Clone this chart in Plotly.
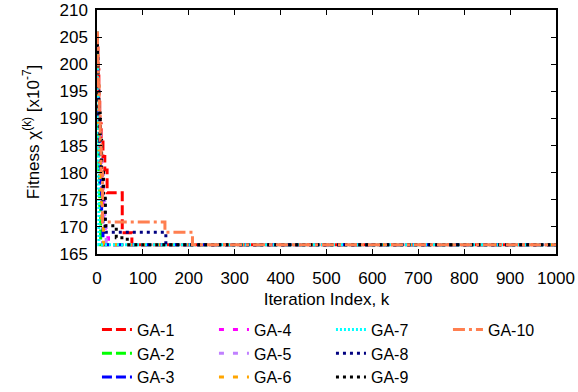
import plotly.graph_objects as go

# Step breakpoints (iteration k where best fitness changes) and fitness values [x1e-7]
names = ["GA-1", "GA-2", "GA-3", "GA-4", "GA-5", "GA-6", "GA-7", "GA-8", "GA-9", "GA-10"]

k_ga1 = [0, 1, 2, 4, 6, 9, 13, 17, 22, 55, 76, 1000]
v_ga1 = [205.5, 203, 199, 193, 189, 186, 183, 180.5, 176.3, 168.9, 166.7, 166.7]
k_ga2 = [0, 1, 2, 3, 4, 6, 8, 1000]
v_ga2 = [205, 199, 192, 186, 180, 174, 166.7, 166.7]
k_ga3 = [0, 1, 2, 3, 5, 7, 10, 13, 1000]
v_ga3 = [205, 201, 196, 190, 184, 178, 173, 166.7, 166.7]
k_ga4 = [0, 1, 2, 4, 6, 9, 13, 18, 25, 1000]
v_ga4 = [205, 200, 194, 188, 182, 177, 172, 168, 166.7, 166.7]
k_ga5 = [0, 1, 3, 5, 8, 11, 14, 17, 20, 1000]
v_ga5 = [205, 198, 193, 188, 184, 180, 177, 172, 166.7, 166.7]
k_ga6 = [0, 1, 2, 3, 5, 7, 10, 14, 1000]
v_ga6 = [205, 200, 195, 189, 183, 177, 171, 166.7, 166.7]
k_ga7 = [0, 1, 2, 3, 4, 1000]
v_ga7 = [205.8, 196, 185, 176, 166.7, 166.7]
k_ga8 = [0, 1, 2, 4, 6, 9, 13, 18, 150, 1000]
v_ga8 = [205, 200, 195, 190, 185, 180, 175, 169.0, 166.7, 166.7]
k_ga9 = [0, 1, 2, 4, 7, 10, 14, 18, 42, 66, 1000]
v_ga9 = [205, 201, 196, 191, 186, 181, 176, 170.2, 168.0, 166.7, 166.7]
k_ga10 = [0, 1, 2, 3, 5, 7, 9, 12, 148, 208, 1000]
v_ga10 = [205.8, 203, 200, 196, 191, 186, 180, 170.9, 169.0, 166.7, 166.7]

ks = [k_ga1, k_ga2, k_ga3, k_ga4, k_ga5, k_ga6, k_ga7, k_ga8, k_ga9, k_ga10]
vs = [v_ga1, v_ga2, v_ga3, v_ga4, v_ga5, v_ga6, v_ga7, v_ga8, v_ga9, v_ga10]

colors = ["#ff0000", "#00ff00", "#0000ff", "#ff00ff", "#c080ff",
          "#ffa500", "#00ffff", "#000080", "#000000", "#ff7f50"]
dashes = ["10px,4px", "10px,4px", "10px,4px", "5px,9px", "5px,9px",
          "5px,9px", "2px,2px", "3px,4px", "3px,4px", "12px,4px,3px,4px"]
groups = ["c1", "c1", "c1", "c2", "c2", "c2", "c3", "c3", "c3", "c4"]

fig = go.Figure()
for i in range(len(names)):
    fig.add_trace(go.Scatter(
        x=ks[i], y=vs[i], mode="lines", name=names[i],
        line=dict(color=colors[i], width=3, dash=dashes[i], shape="hv"),
        legendgroup=groups[i],
    ))

font = "Liberation Sans, Arial, sans-serif"
axis_common = dict(
    showgrid=False, zeroline=False, showline=True, linecolor="#000000",
    linewidth=1.5, mirror="ticks", ticks="inside", ticklen=5,
    tickcolor="#000000", tickfont=dict(size=17, color="#000000", family=font),
    automargin=False,
)
fig.update_layout(
    width=578, height=392,
    margin=dict(l=97, r=22, t=10, b=138, autoexpand=False),
    paper_bgcolor="white", plot_bgcolor="white",
    font=dict(family=font, color="#000000", size=17),
    xaxis=dict(range=[0, 1000], dtick=100, tick0=0, ticklabelstandoff=8,
               title=dict(text="Iteration Index, k", font=dict(size=17), standoff=6),
               **axis_common),
    yaxis=dict(range=[165, 210], dtick=5, tick0=165, ticklabelstandoff=4,
               title=dict(text="Fitness χ<sup>(k)</sup> [x10<sup>-7</sup>]", font=dict(size=17), standoff=16),
               **axis_common),
    legend=dict(orientation="h", traceorder="grouped",
                x=-0.0001, xanchor="left",
                y=-0.2402, yanchor="top",
                font=dict(size=16), tracegroupgap=30, entrywidth=72,
                bgcolor="rgba(0,0,0,0)"),
    showlegend=True,
)
fig.write_html("out.html")
